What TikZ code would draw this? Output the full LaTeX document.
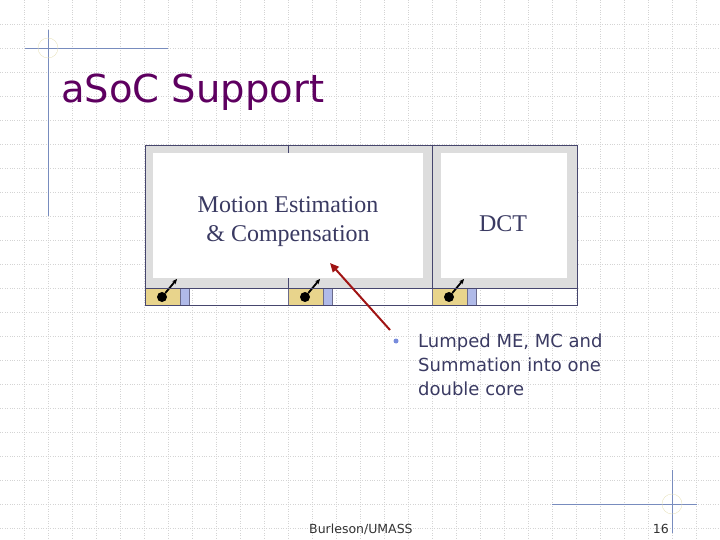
\documentclass[tikz,border=0pt]{standalone}
\usepackage{fontspec}
\setmainfont{Liberation Serif}
\setsansfont{DejaVu Sans}
\usetikzlibrary{arrows.meta,positioning}
\definecolor{titlepurple}{RGB}{94,0,96}
\definecolor{textnavy}{RGB}{58,58,98}
\definecolor{framenavy}{RGB}{70,70,110}
\definecolor{rulerblue}{RGB}{120,140,190}
\definecolor{ringyellow}{RGB}{232,226,190}
\definecolor{coregray}{RGB}{221,221,221}
\definecolor{portyellow}{RGB}{232,212,140}
\definecolor{portblue}{RGB}{176,186,232}
\definecolor{arrowred}{RGB}{160,20,20}
\definecolor{gridgray}{RGB}{212,212,212}
\definecolor{bulletblue}{RGB}{120,140,220}

\begin{document}
\begin{tikzpicture}[x=1pt,y=-1pt,
  coretext/.style={font=\fontsize{24}{29}\selectfont, text=textnavy, align=center, inner sep=0pt},
  corecell/.style={fill=white, inner sep=0pt, anchor=north west},
  yport/.style={draw=framenavy!80, fill=portyellow, anchor=north west, minimum width=35pt, minimum height=17pt, inner sep=0pt},
  bport/.style={draw=framenavy!80, fill=portblue, anchor=north west, minimum width=9pt, minimum height=17pt, inner sep=0pt},
  pin/.style={circle, fill=black, inner sep=0pt, minimum size=10pt},
  pinarrow/.style={-{Stealth[length=5pt,width=4.5pt]}, line width=1.8pt}]
\useasboundingbox (0,0) rectangle (720,540);
% Background grid
\foreach \g in {24,48,...,696} \draw[gridgray, dotted] (\g,0) -- (\g,540);
\foreach \g in {24,48,...,528} \draw[gridgray, dotted] (0,\g) -- (720,\g);

% Corner rulers
\draw[rulerblue] (48,30) -- (48,216);
\draw[rulerblue] (25,48) -- (168,48);
\draw[ringyellow] (48,48) circle (10);
\draw[rulerblue] (672,470) -- (672,533);
\draw[rulerblue] (552,504) -- (697,504);
\draw[ringyellow] (672,504) circle (10);

% Title
\node[anchor=base west, inner sep=0pt, font=\sffamily\fontsize{38.5}{44}\selectfont, text=titlepurple] (title) at (61,103) {aSoC Support};

% Cores
\fill[coregray] (145,145) rectangle (577,288);
\draw[framenavy] (288,145) -- (288,305);
\draw[framenavy] (432,145) -- (432,305);
\node[corecell, minimum width=270pt, minimum height=125pt] (me) at (153,153) {};
\node[corecell, minimum width=126pt, minimum height=125pt] (dct) at (441,153) {};
\node[coretext] (melabel) at (288,221.5) {Motion Estimation\\\& Compensation};
\node[coretext] (dctlabel) at (503,224) {DCT};

% Ports
\foreach \x/\n in {145/a,288/b,432/c} {
  \node[yport] (y\n) at (\x,288) {};
  \node[bport] (b\n) at ([xshift=35pt]\x,288) {};
  \node[pin] (p\n) at ([xshift=17pt]\x,297) {};
  \coordinate (t\n) at ([xshift=32pt]\x,279);
  \draw[pinarrow] (p\n) -- (t\n);
}
\draw[framenavy] (145,145) rectangle (577,305);
\draw[framenavy] (145,288) -- (577,288);

% Note
\node[circle, fill=bulletblue, inner sep=0pt, minimum size=5pt] (bullet) at (396,341) {};
\node[anchor=north west, inner sep=0pt, align=left, font=\sffamily\fontsize{18}{24}\selectfont, text=textnavy] (note) at (418,334) {Lumped ME, MC and\\Summation into one\\double core};
\coordinate (tail) at (390,330);
\coordinate (head) at (330,263);
\draw[arrowred, line width=2pt, -{Triangle[length=9pt,width=8pt]}] (tail) -- (head);

% Footer
\node[anchor=base west, inner sep=0pt, font=\sffamily\fontsize{12.5}{15}\selectfont, text=black!80] (author) at (309,533) {Burleson/UMASS};
\node[anchor=base east, inner sep=0pt, font=\sffamily\fontsize{12.5}{15}\selectfont, text=black!80] (page) at (669,533) {16};
\end{tikzpicture}
\end{document}
